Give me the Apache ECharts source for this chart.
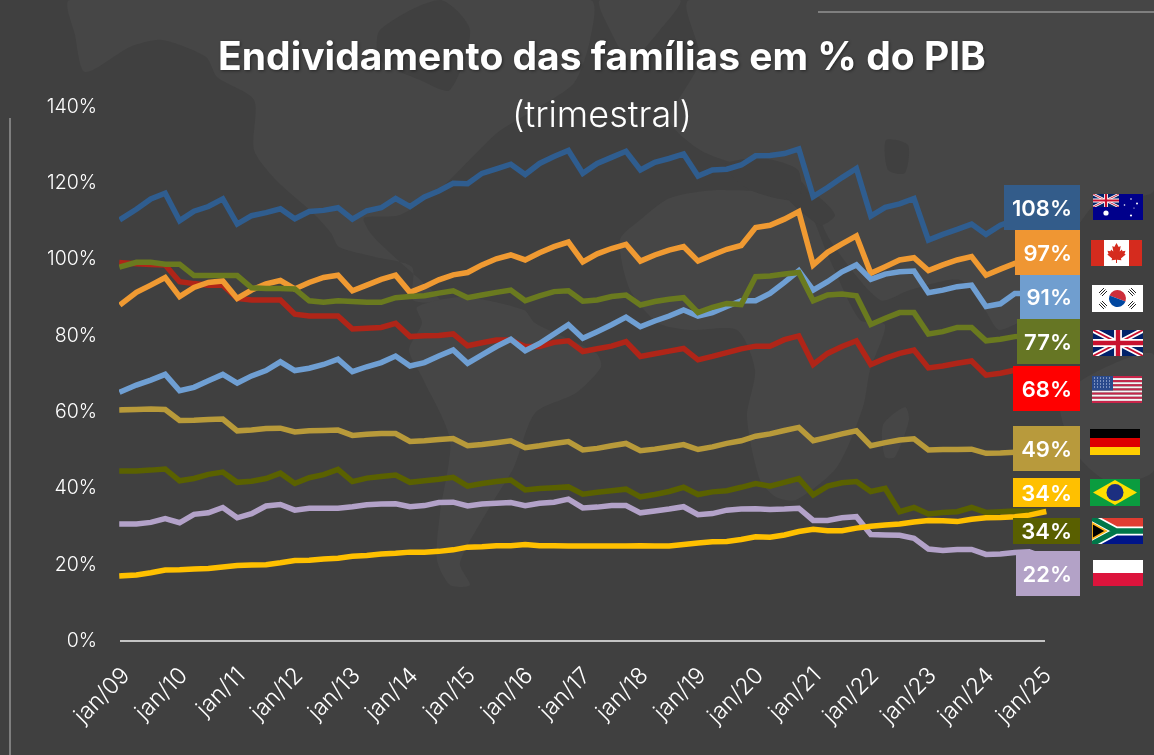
<!DOCTYPE html>
<html><head><meta charset="utf-8">
<style>html,body{margin:0;padding:0;background:#404040}#c{width:1154px;height:755px}</style>
<script src="https://cdn.jsdelivr.net/npm/echarts@6/dist/echarts.min.js"></script>
</head><body><div id="c"></div>
<script>
const years = ['09','10','11','12','13','14','15','16','17','18','19','20','21','22','23','24','25'];
const months = ['jan','abr','jul','out'];
const categories = [];
years.forEach(y => months.forEach(m => { if (categories.length < 65) categories.push(m + '/' + y); }));
const yTicks = [0,20,40,60,80,100,120,140];

const australia = [110.8,113.2,115.9,117.4,110.2,112.7,113.9,115.9,109.3,111.5,112.3,113.3,110.7,112.6,112.9,113.6,110.6,112.8,113.6,116,113.9,116.4,118,120,119.9,122.6,123.8,125,122.3,125.2,127,128.6,122.6,125.2,126.8,128.4,123.5,125.5,126.5,127.7,121.9,123.5,123.7,124.8,127.2,127.3,127.8,129,116.5,118.9,121.5,123.9,111.4,113.7,114.6,116,105.1,106.6,107.9,109.3,106.6,109,110.4,109,108];
const canada = [88.5,91.4,93.3,95.3,90.3,92.7,94,94.4,89.8,92,93.6,94.5,92.3,94,95.3,95.9,91.8,93.3,94.8,95.9,91.4,92.9,94.7,96,96.6,98.6,100.2,101.2,99.9,101.8,103.4,104.6,99.4,101.5,102.9,104,99.6,101.2,102.5,103.4,99.6,101.2,102.7,103.7,108.4,109,110.6,112.6,98.6,101.9,104.1,106.2,96.4,98.1,99.9,100.5,97.1,98.6,99.9,100.8,95.9,97.5,99,98,97];
const korea = [65.5,67.1,68.4,69.9,65.6,66.5,68.2,69.9,67.6,69.5,70.9,73.2,70.9,71.5,72.5,73.9,70.6,71.9,73,74.7,72.1,73,74.7,76.3,72.8,75,77.2,79.1,76.1,78,80.5,82.9,79.4,81.1,82.9,84.9,82.4,83.9,85.2,86.8,85.2,86.1,87.7,89.2,89.2,91.1,94,97.1,92,94.2,96.8,98.6,94.8,96.2,96.8,97,91.3,92,92.9,93.3,87.7,88.4,91.1,91.1,91];
const uk = [98.2,99.3,99.3,98.8,98.8,95.8,95.8,95.8,95.8,92.6,92.4,92.4,92.3,89.2,88.8,89.2,89,88.8,88.8,90,90.3,90.5,91.2,91.8,90,90.7,91.4,92,89.2,90.5,91.6,91.8,89.1,89.4,90.3,90.7,88.1,89,89.6,90,86.1,87.5,88.5,88.2,95.5,95.7,96.2,96.6,89.2,90.7,91,90.5,83,84.6,86.1,86.1,80.5,81.1,82.2,82.2,78.7,79.1,79.8,80,77];
const usa = [99.2,98.9,98.7,98.6,94.2,93.7,93.3,93.3,89.8,89.4,89.4,89.4,85.7,85.2,85.2,85.2,81.8,82,82.2,83.3,79.8,80,80.1,80.5,77.4,78.2,78.9,78.9,77.2,77.2,78.3,78.7,75.9,76.6,77.3,78.5,74.6,75.3,76,76.7,73.7,74.6,75.6,76.6,77.3,77.3,79,80,72.5,75.4,77.2,78.7,72.5,74.1,75.4,76.3,71.6,72.1,72.8,73.4,69.7,70.2,71,70,68];
const germany = [60.6,60.7,60.8,60.7,57.8,57.9,58.1,58.2,55.1,55.3,55.7,55.8,54.8,55.1,55.2,55.3,53.9,54.2,54.4,54.4,52.3,52.5,52.8,53.1,51.2,51.5,52,52.5,50.7,51.2,51.8,52.3,50.1,50.5,51.2,51.8,49.9,50.3,50.9,51.5,50.2,50.9,51.8,52.5,53.7,54.3,55.2,56,52.5,53.4,54.3,55.1,51.2,52,52.7,53,50.1,50.2,50.2,50.3,49.2,49.3,49.5,49.5,49];
const brazil = [17.1,17.3,17.9,18.6,18.7,18.9,19,19.4,19.8,19.9,20,20.5,21.1,21.2,21.5,21.7,22.2,22.4,22.8,23,23.3,23.3,23.5,23.9,24.6,24.7,25,25,25.3,25,25,24.9,24.9,24.9,24.9,24.9,25,24.9,24.9,25.3,25.7,26,26.1,26.6,27.3,27.2,27.8,28.7,29.3,28.9,28.9,29.6,30.1,30.4,30.7,31.2,31.6,31.5,31.3,31.9,32.3,32.4,32.6,33,33.8];
const southAfrica = [44.6,44.6,44.8,45.1,42,42.6,43.7,44.3,41.6,41.9,42.6,44,41.3,42.8,43.6,45,41.8,42.7,43.1,43.5,41.6,42,42.4,42.9,40.6,41.3,41.8,42.2,39.6,40,40.2,40.4,38.5,39,39.4,39.8,37.8,38.4,39.2,40.3,38.4,39.1,39.4,40.3,41.3,40.6,41.6,42.6,38.3,40.6,41.5,41.8,39.2,40,33.9,35,33.3,33.7,33.9,35,33.7,33.9,34.1,34,34];
const poland = [30.7,30.7,31.1,32.1,31,33.2,33.6,35,32.3,33.4,35.4,35.8,34.3,34.8,34.8,34.8,35.2,35.7,35.9,36,35.2,35.5,36.3,36.4,35.4,35.9,36.1,36.3,35.5,36.1,36.4,37.2,34.9,35.1,35.5,35.5,33.6,34.1,34.6,35.2,33.1,33.4,34.3,34.6,34.7,34.5,34.6,34.8,31.6,31.6,32.3,32.6,27.9,27.8,27.7,26.9,24.1,23.7,24,24,22.7,22.8,23.2,23.4,22];

const endLabels = ['108%','97%','91%','77%','68%','49%','34%','34%','22%'];
const names = ['Austrália','Canadá','Coreia do Sul','Reino Unido','Estados Unidos','Alemanha','Brasil','África do Sul','Polônia'];

const font = 'Inter, "Noto Sans", sans-serif';

/* ---- decoration: faint world map ---- */
const LAND = '#464646', SEA = '#404040';
const land = [
 [[70,0],[75,35],[85,72],[130,47],[162,40],[206,57],[217,77],[254,100],[254,150],[276,180],[313,213],[331,233],[339,247],[375,257],[412,267],[413,300],[440,300],[400,262],[372,235],[364,218],[400,215],[442,187],[497,133],[534,110],[574,83],[590,40],[590,0]],
 [[417,307],[463,297],[524,310],[535,323],[596,353],[601,367],[576,393],[535,413],[514,467],[488,510],[460,563],[470,585],[450,585],[437,560],[440,513],[450,440],[422,377],[409,350],[422,323]],
 [[620,240],[640,220],[670,198],[720,190],[800,200],[830,260],[860,320],[885,325],[870,370],[863,407],[837,467],[796,500],[776,497],[760,480],[747,417],[755,370],[737,330],[690,330],[658,323],[630,290]],
 [[883,425],[905,407],[909,420],[895,457],[885,457]],
 [[690,0],[700,60],[670,120],[700,150],[740,165],[800,180],[830,240],[880,300],[910,290],[960,280],[985,310],[1000,330],[1050,300],[1070,240],[1100,200],[1154,190],[1154,0]],
 [[1060,400],[1100,370],[1154,355],[1154,470],[1110,482],[1075,452]],
 [[600,0],[680,0],[660,30],[630,60],[610,30]]
];
const sea = [
 [[380,30],[440,0],[470,30],[450,90],[420,80],[380,60]],
 [[724,165],[760,158],[798,170],[798,200],[750,190]],
 [[785,195],[815,195],[835,215],[820,225]],
 [[886,140],[908,145],[905,173],[888,170]]
];
const poly = (pts, fill) => ({type:'polygon', silent:true, z:-10, shape:{points:pts, smooth:0.25}, style:{fill}});

/* ---- decoration: flags (SVG) ---- */
const svg = (w,h,body) => 'data:image/svg+xml,' + encodeURIComponent(`<svg xmlns="http://www.w3.org/2000/svg" width="${w*4}" height="${h*4}" viewBox="0 0 ${w} ${h}">${body}</svg>`);
const ukMark = (w,h) => `<rect width="${w}" height="${h}" fill="#012169"/><path d="M0 0L${w} ${h}M${w} 0L0 ${h}" stroke="#fff" stroke-width="${h*0.2}"/><path d="M0 0L${w} ${h}M${w} 0L0 ${h}" stroke="#c8102e" stroke-width="${h*0.07}"/><path d="M${w/2} 0V${h}M0 ${h/2}H${w}" stroke="#fff" stroke-width="${h*0.3}"/><path d="M${w/2} 0V${h}M0 ${h/2}H${w}" stroke="#c8102e" stroke-width="${h*0.17}"/>`;
const star = (x,y,r) => `<circle cx="${x}" cy="${y}" r="${r}" fill="#fff"/>`;
let stripes=''; for(let i=0;i<13;i++) stripes+=`<rect y="${i*27/13}" width="50" height="${27/13}" fill="${i%2?'#f5f5f5':'#c8254a'}"/>`;
const flagSrc = [
 svg(50,26,`<rect width="50" height="26" fill="#00008b"/><svg width="26" height="13" viewBox="0 0 26 13">${ukMark(26,13)}</svg>`+star(13,19,2.6)+star(38,5,.8)+star(31.5,11,.8)+star(44,9.5,1)+star(38,21.5,1.1)+star(41,14,.6)),
 svg(51,26,`<rect width="51" height="26" fill="#fff"/><rect width="13" height="26" fill="#d52b1e"/><rect x="38" width="13" height="26" fill="#d52b1e"/><path d="M25.5 3l2.2 4 2-1-1 5.5 2.2-2 .6 1.8 3-.5-1 3 1.2.8-4.8 3.9.5 1.8-4.4-.5v3.2h-1v-3.2l-4.4.5.5-1.8-4.8-3.9 1.2-.8-1-3 3 .5.6-1.8 2.2 2-1-5.5 2 1z" fill="#d52b1e"/>`),
 svg(51,27,`<rect width="51" height="27" fill="#fff"/><path d="M17 13.5a8.5 8.5 0 0 1 17 0z" fill="#cd2e3a" transform="rotate(20 25.5 13.5)"/><path d="M17 13.5a8.5 8.5 0 0 0 17 0z" fill="#0047a0" transform="rotate(20 25.5 13.5)"/><g stroke="#222" stroke-width="1"><path d="M7 8l5-5M8.5 9.5l5-5M10 11l5-5M36 6l5 5M37.5 4.5l5 5M39 3l5 5M7 19l5 5M8.5 17.5l5 5M10 16l5 5M36 21l5-5M37.5 22.5l5-5M39 24l5-5"/></g>`),
 svg(50,26,ukMark(50,26)),
 svg(50,27,stripes+`<rect width="21" height="14.5" fill="#2a4a8c"/><path d="M2 2h17M2 5h17M2 8h17M2 11h17" stroke="#cfd8ee" stroke-width="1" stroke-dasharray="1 2"/>`),
 svg(50,26,`<rect width="50" height="9" fill="#000"/><rect y="9" width="50" height="9" fill="#dd0000"/><rect y="18" width="50" height="8" fill="#ffce00"/>`),
 svg(50,27,`<rect width="50" height="27" fill="#0a9c3f"/><path d="M25 1L47 13.5 25 26 3 13.5z" fill="#fedf00"/><circle cx="25" cy="13.5" r="8.5" fill="#1c2f80"/>`),
 svg(51,26,`<rect width="51" height="13" fill="#e03c31"/><rect y="13" width="51" height="13" fill="#001489"/><path d="M0 0L24 13 0 26M24 13H51" stroke="#fff" stroke-width="9" fill="none"/><path d="M0 0L24 13 0 26M24 13H51" stroke="#007749" stroke-width="5.5" fill="none"/><path d="M0 5L14 13 0 21z" fill="#000" stroke="#ffb81c" stroke-width="1.8"/>`),
 svg(50,26,`<rect width="50" height="13" fill="#fff"/><rect y="13" width="50" height="13" fill="#dc143c"/>`)
];
const flagBox = [[1093,194,50,26],[1091,240,51,26],[1092,285,51,27],[1093,330,50,26],[1092,376,50,27],[1090,429,50,26],[1090,479,50,27],[1092,518,51,26],[1093,560,50,26]];
const tagBox = [[1004,185,76,45],[1015,230,65,45],[1020,275,60,44],[1017,319,63,45],[1013,366,67,45],[1013,426,67,45],[1013,478,67,29],[1013,518,67,26],[1016,551,64,45]];
const tagColor = ['#335c8a','#ef9633','#709ecf','#667624','#ff0000','#b89a3c','#ffc000','#595f00','#b3a2c7'];

const lineColor = {aus:'#2f5d8f',can:'#f09a32',kor:'#6f9fd3',uk:'#6a7a1f',usa:'#b02518',ger:'#b89a3a',bra:'#ffc000',saf:'#5a6100',pol:'#b3a2c9'};
const mk = (name,data,color) => ({name,type:'line',data,symbol:'none',smooth:false,clip:false,lineStyle:{color,width:5.5,join:'miter',cap:'square'},itemStyle:{color},emphasis:{disabled:true}});

const chart = echarts.init(document.getElementById('c'), null, {renderer:'canvas'});
chart.setOption({
 animation:false,
 backgroundColor:SEA,
 legend:{show:false},
 title:[
  {text:'Endividamento das famílias em % do PIB',left:597,textAlign:'center',top:34,itemGap:0,
   textStyle:{color:'#fff',fontFamily:font,fontWeight:700,fontSize:39,textShadowColor:'rgba(0,0,0,.45)',textShadowBlur:3,textShadowOffsetX:1,textShadowOffsetY:1}},
  {text:'(trimestral)',left:597,textAlign:'center',top:93,
   textStyle:{color:'#fff',fontFamily:font,fontWeight:300,fontSize:36}}
 ],
 grid:{left:122,top:107,width:921.6,height:534,containLabel:false},
 xAxis:{type:'category',data:categories,boundaryGap:false,
  axisLine:{show:false},axisTick:{show:false},
  axisLabel:{interval:3,rotate:45,color:'#fff',fontFamily:font,fontWeight:300,fontSize:23,margin:35,padding:[0,-6,0,0]}},
 yAxis:{type:'value',min:yTicks[0],max:yTicks[yTicks.length-1],interval:20,
  axisLine:{show:false},axisTick:{show:false},splitLine:{show:false},
  axisLabel:{color:'#fff',fontFamily:font,fontWeight:300,fontSize:19.5,margin:25,padding:[3,0,0,0],formatter:'{value}%'}},
 series:[
  mk(names[0],australia,lineColor.aus),
  mk(names[4],usa,lineColor.usa),
  mk(names[1],canada,lineColor.can),
  mk(names[2],korea,lineColor.kor),
  mk(names[3],uk,lineColor.uk),
  mk(names[5],germany,lineColor.ger),
  mk(names[8],poland,lineColor.pol),
  mk(names[7],southAfrica,lineColor.saf),
  mk(names[6],brazil,lineColor.bra)
 ],
 graphic:[
  ...land.map(p=>poly(p,LAND)),
  ...sea.map(p=>poly(p,SEA)),
  {type:'line',silent:true,z:1,shape:{x1:120,y1:641,x2:1045,y2:641},style:{stroke:'#c4c4c4',lineWidth:2}},
  {type:'line',silent:true,z:1,shape:{x1:10,y1:118,x2:10,y2:755},style:{stroke:'#7f7f7f',lineWidth:2}},
  {type:'line',silent:true,z:1,shape:{x1:818,y1:12,x2:1154,y2:12},style:{stroke:'#7f7f7f',lineWidth:2}},
  ...tagBox.map((b,i)=>({type:'rect',silent:true,z:20,shape:{x:b[0],y:b[1],width:b[2],height:b[3]},style:{fill:tagColor[i]}})),
  ...tagBox.map((b,i)=>({type:'text',silent:true,z:21,x:1072,y:b[1]+b[3]/2+1.5,style:{text:endLabels[i],fill:'#fff',font:'600 22px '+font,textAlign:'right',textVerticalAlign:'middle'}})),
  ...flagBox.map((b,i)=>({type:'image',silent:true,z:20,style:{image:flagSrc[i],x:b[0],y:b[1],width:b[2],height:b[3]}}))
 ]
});
</script></body></html>
